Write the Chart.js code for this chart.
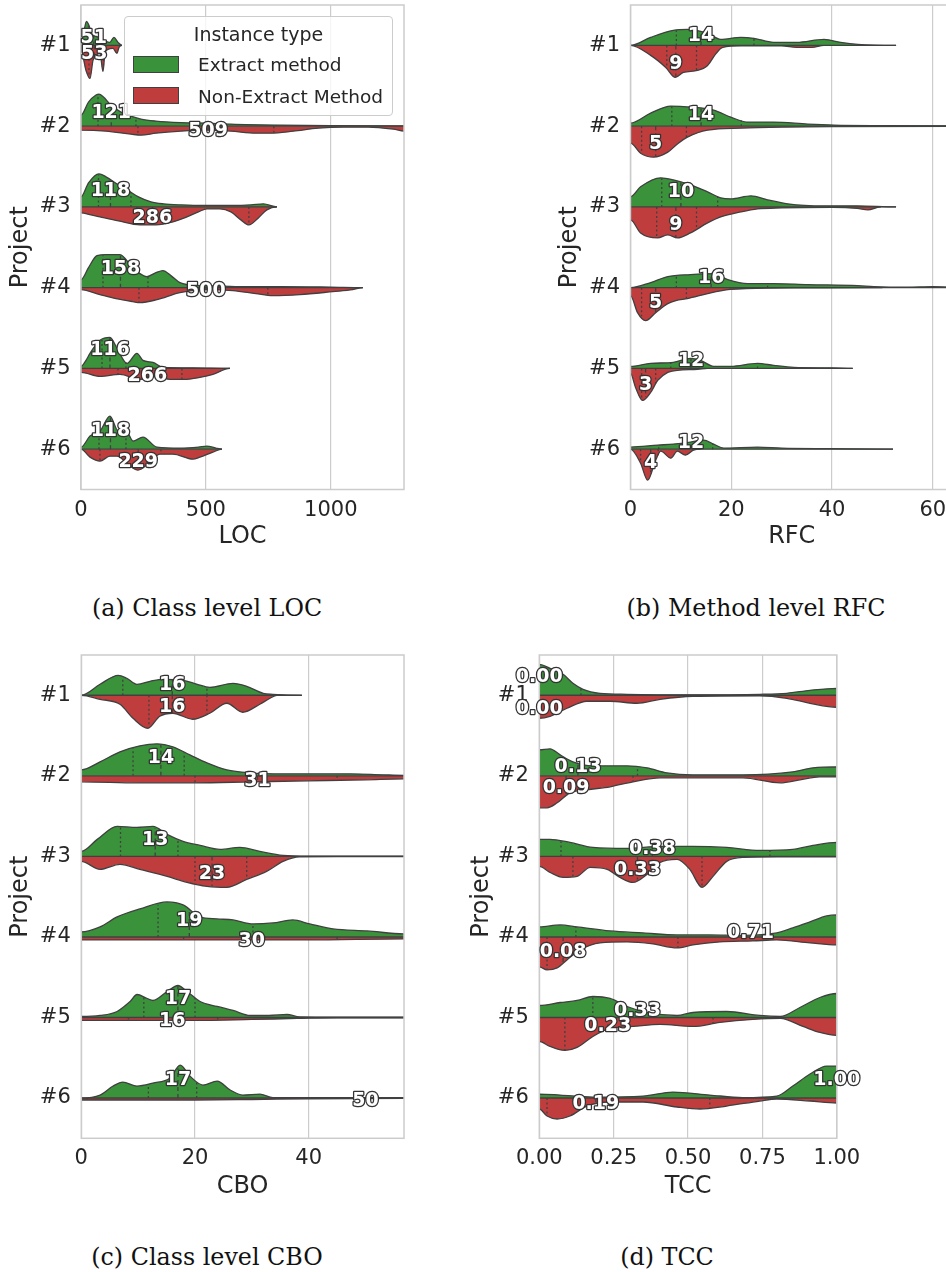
<!DOCTYPE html>
<html><head><meta charset="utf-8">
<script src="https://cdn.jsdelivr.net/npm/chart.js@4.4.1/dist/chart.umd.min.js"></script>
<style>
html,body{margin:0;padding:0;background:#fff;width:946px;height:1272px;overflow:hidden;position:relative;}
canvas{position:absolute;}
.cap{position:absolute;width:400px;text-align:center;font-family:'DejaVu Serif',serif;font-size:23.8px;color:#111;line-height:30px;white-space:nowrap;}
#legend{position:absolute;left:124px;top:16px;width:269px;height:100px;border:1px solid #cccccc;border-radius:4px;background:rgba(255,255,255,0.8);font-family:'DejaVu Sans',sans-serif;color:#262626;box-sizing:border-box;}
#legend .t{position:absolute;left:0;width:100%;text-align:center;top:5px;font-size:19px;line-height:24px;}
#legend .sw{position:absolute;left:8px;width:46px;height:17px;box-sizing:border-box;border:1px solid #404040;}
#legend .lb{position:absolute;left:73px;font-size:18.5px;line-height:24px;white-space:nowrap;}
</style></head>
<body>
<canvas id="cA" width="420" height="565" style="left:0;top:0;"></canvas>
<canvas id="cB" width="420" height="565" style="left:540px;top:0;"></canvas>
<canvas id="cC" width="420" height="575" style="left:0;top:640px;"></canvas>
<canvas id="cD" width="440" height="575" style="left:460px;top:640px;"></canvas>
<div id="legend">
  <div class="t">Instance type</div>
  <div class="sw" style="top:39px;background:#3a923a;"></div>
  <div class="lb" style="top:36px;">Extract method</div>
  <div class="sw" style="top:70px;background:#c03d3e;"></div>
  <div class="lb" style="top:68px;">Non-Extract Method</div>
</div>
<div class="cap" style="left:7px;top:593px;">(a) Class level LOC</div>
<div class="cap" style="left:556px;top:593px;">(b) Method level RFC</div>
<div class="cap" style="left:7px;top:1242px;">(c) Class level CBO</div>
<div class="cap" style="left:467px;top:1242px;">(d) TCC</div>
<script>
// ---------------- DATA ----------------
const projects = ['#1', '#2', '#3', '#4', '#5', '#6'];
const seriesNames = ['Extract method', 'Non-Extract Method'];

// density profiles: [metric value, half-width density] per project
const locExtract = [
 [[0,3],[10,12],[22,24],[30,21],[45,11],[60,9],[80,7],[100,4],[115,3],[132,8],[148,3],[164,0]],
 [[0,11],[30,24],[60,31],[72,32],[90,29],[120,21],[160,14],[200,10],[240,7],[300,5],[400,3.5],[500,3],[600,2],[800,1],[1000,0.5],[1300,0.3]],
 [[0,10],[30,24],[72,33],[100,30],[150,22],[185,17],[230,10],[280,5],[330,3],[400,2],[500,1.5],[600,1.5],[680,2],[730,3],[784,0]],
 [[0,8],[30,20],[64,32],[100,33],[156,33],[200,22],[236,14],[264,11],[300,15],[328,17],[360,12],[396,5],[476,2],[560,1.5],[664,1],[800,1],[1000,0.5],[1128,0]],
 [[0,2],[20,8],[36,15],[76,28],[116,31],[148,18],[184,5],[224,15],[248,8],[288,6],[328,1],[450,0.5],[596,0]],
 [[0,2],[36,13],[76,18],[116,33],[148,18],[184,17],[208,8],[248,12],[304,2],[400,1],[470,2],[504,3],[540,1],[564,0]]
];
const locNonExtract = [
 [[0,5],[20,25],[36,33],[48,15],[60,10],[76,8],[88,26],[96,8],[108,4],[128,3],[144,8],[152,2],[164,0]],
 [[0,4],[100,5],[200,8],[240,9],[300,7],[400,5],[500,4],[600,5],[700,7],[760,7],[850,5],[950,2],[1050,1],[1150,1],[1250,3],[1300,5]],
 [[0,6],[40,8],[76,10],[150,14],[236,18],[300,18],[368,15],[424,10],[470,5],[504,2],[556,2],[600,5],[640,13],[672,18],[710,11],[744,3],[784,0]],
 [[0,2],[76,7],[140,11],[208,14],[236,15],[304,12],[396,5],[504,2],[608,3],[700,6],[768,8],[876,7],[1008,4],[1088,2],[1128,0]],
 [[0,4],[76,8],[156,6],[236,11],[304,8],[356,11],[424,11],[476,9],[528,6],[596,0]],
 [[0,0],[36,8],[76,12],[116,7],[144,7],[196,17],[228,21],[276,13],[316,5],[368,5],[448,10],[476,8],[528,3],[564,0]]
];
// quartiles [Q1, median, Q3]
const locExtractQ = [[30,51,85],[68,121,220],[70,118,200],[88,158,268],[84,116,180],[72,118,180]];
const locNonExtractQ = [[32,53,90],[228,509,772],[224,286,672],[232,500,748],[148,266,404],[76,229,320]];

const rfcExtract = [
 [[0,0],[4,8],[8.5,15],[11.3,16],[15.3,12],[17.9,6],[21.9,8],[24.5,7],[28.4,3],[33,3],[38.4,6],[41.7,3],[45.1,1],[52.7,0]],
 [[0,3],[4,13],[8,20],[11.9,19],[16.5,16],[19.9,9],[23.3,4],[28.4,4],[35.2,2],[40.4,1],[50,0.5],[64,0.3]],
 [[0,10],[2,20],[6,29],[8.5,27],[11.9,22],[15.3,15],[17.9,9],[19.9,8],[23.9,11],[27.2,7],[31.2,3],[38.4,1],[45,1],[52.7,0]],
 [[0,0],[4,5],[7.4,11],[11.9,13],[16.5,14],[19.3,8],[23.3,4],[28.4,4],[35.2,3],[45.1,2],[48.3,1],[55,0.5],[60,1],[64,0.5]],
 [[0,2],[4,5],[8.5,6],[11.9,10],[13.9,8],[16.5,2],[19.9,2],[25.2,5],[28.4,3],[32.4,1],[40,0.5],[44.1,0]],
 [[0,2],[5.4,4],[8.5,5],[11.9,7],[14.5,9],[16.5,5],[18.5,1],[25.2,2],[30,1],[40,0.5],[52.1,0]]
];
const rfcNonExtract = [
 [[0,0],[4,10],[7,22],[8.9,32],[10.5,27],[13.3,25],[15.3,20],[17,8],[18.3,2],[22,0.5],[30,0.5],[33,2],[36,2],[38.4,0]],
 [[0,17],[2,27],[4.6,31],[7.4,26],[9.5,17],[11.3,11],[15.3,4],[21.9,2],[30,1],[40,0.5],[64,0.3]],
 [[0,13],[2,26],[5.4,31],[7.4,28],[9.3,31],[11.9,26],[15.3,16],[17.9,10],[21.9,5],[25.2,2],[30,1],[40,0.5],[45,1.5],[47.1,3],[49.7,0]],
 [[0,8],[1.4,25],[3,33],[5,25],[7.4,16],[9,13],[11.3,11],[15.3,6],[19.3,2],[23,1],[27.2,0.5],[35,0.3],[50,0]],
 [[0,5],[1,19],[2.4,32],[4,24],[5.4,12],[7.4,4],[9.3,2],[13.3,1],[15.3,0]],
 [[0,0],[2,14],[3.4,31],[5,11],[6,2],[8,9],[9.3,2],[10.9,6],[12.5,1],[13.9,0]]
];
const rfcExtractQ = [[9.1,14,24.5],[8.2,14,22],[6.2,10,17.3],[9.1,16,27.2],[8,12,25.2],[5.6,12,16.3]];
const rfcNonExtractQ = [[7.2,9,13.1],[2.2,5,11.1],[5.2,9,13.1],[2.2,5,11.1],[2.2,3,5],[2,4,5.5]];

const cboExtract = [
 [[0,0],[3.3,11],[6.5,20],[8,17],[9.8,11],[12.1,14],[14.4,16],[17.9,15],[20.4,11],[22.6,8],[26.7,12],[29.1,9],[32,2],[33.7,1],[38.8,0]],
 [[0,6],[3.3,14],[6.8,24],[10.3,30],[13.3,32],[16.1,29],[19.1,21],[22.1,13],[25.6,6],[29.7,3],[35.5,2],[47.3,2],[53.1,1],[57,0.5]],
 [[0,5],[2.8,17],[6.3,30],[9.8,29],[12.6,30],[15.1,22],[17.9,15],[20.9,11],[24.4,7],[27.9,9],[31.4,5],[35.5,1],[40,0.3],[57,0.3]],
 [[0,5],[3.3,10],[6.3,20],[10.3,28],[15.1,35],[17.9,32],[20.9,20],[23.9,18],[26.7,17],[30.2,13],[33.7,14],[37.2,17],[40.2,13],[44.3,8],[50.3,6],[57,3]],
 [[0,1],[3.3,2],[6.3,6],[8.6,16],[9.8,23],[11.6,19],[12.6,17],[15.1,26],[17,32],[18.6,26],[20.9,16],[23.9,11],[26.7,7],[29.7,2],[33,2],[36.2,3],[38.4,0.5],[45,0.3],[57,0.3]],
 [[0,0],[3.3,3],[5.6,12],[7.3,16],[9.8,12],[12.6,15],[15.6,20],[17.4,33],[19.1,22],[21.4,13],[23.9,17],[26.2,8],[28.4,3],[31.4,4],[33.7,0.5],[45,0.3],[57,0.3]]
];
const cboNonExtract = [
 [[0,0],[3.3,4],[6.8,9],[9.1,23],[11.7,33],[13.8,21],[16.1,18],[19.6,24],[22.6,18],[25.6,8],[28.4,17],[31.4,9],[33.2,3],[34.4,0]],
 [[0,6],[10,7],[20,7],[30,6],[40,5],[50,4],[57,3]],
 [[0,5],[3.3,13],[6.8,8],[10.3,13],[15.1,20],[18.6,26],[22.1,30],[25.6,31],[29.1,23],[32.6,15],[35.5,5],[38.4,0.5],[45,0.3],[57,0.3]],
 [[0,3],[20,3],[40,3],[57,2]],
 [[0,3],[10,3],[20,3],[30,2],[38,1],[45,0.3],[57,0.3]],
 [[0,2],[20,2],[30,1.5],[40,0.8],[57,0.3]]
];
const cboExtractQ = [[7.3,16,22.1],[9.1,14,18.1],[6.9,13,17],[13.5,19,30.2],[11,17,20],[11.8,17,20.3]];
const cboNonExtractQ = [[11.9,16,22.1],[20,31,45],[20,23,29.1],[18,30,45],[8.3,16,24],[1,50,55]];

const tccExtract = [
 [[0,31],[0.036,27],[0.08,21],[0.113,12],[0.147,6],[0.204,2],[0.295,1],[0.5,0.5],[0.741,1],[0.832,2],[0.91,5],[1,7]],
 [[0,26],[0.036,27],[0.07,21],[0.113,14],[0.18,10],[0.295,10],[0.362,8],[0.429,3],[0.516,1],[0.684,1],[0.852,4],[0.92,8],[1,9]],
 [[0,17],[0.036,17],[0.103,14],[0.18,9],[0.295,8],[0.406,10],[0.516,10],[0.63,9],[0.741,6],[0.852,7],[0.92,11],[1,14]],
 [[0,10],[0.07,12],[0.127,10],[0.238,6],[0.349,4],[0.463,2],[0.573,2],[0.684,1.5],[0.798,4],[0.852,9],[0.91,15],[0.966,21],[1,22]],
 [[0,12],[0.07,15],[0.127,17],[0.18,21],[0.238,19],[0.295,11],[0.362,5],[0.463,2],[0.516,5],[0.63,6],[0.741,2],[0.81,1],[0.876,10],[0.943,20],[1,24]],
 [[0,4],[0.07,3],[0.18,1],[0.349,2],[0.449,6],[0.573,3],[0.684,0.5],[0.798,2],[0.852,12],[0.91,24],[0.966,32],[1,32]]
];
const tccNonExtract = [
 [[0,23],[0.036,21],[0.093,13],[0.16,6],[0.238,6],[0.328,8],[0.406,4],[0.517,1],[0.74,0.5],[0.832,3],[0.91,8],[1,12]],
 [[0,32],[0.026,32],[0.06,27],[0.103,17],[0.16,14],[0.238,11],[0.315,6],[0.406,2],[0.516,2],[0.684,2],[0.81,7],[0.876,4],[0.943,1],[1,1]],
 [[0,10],[0.036,16],[0.08,21],[0.127,20],[0.171,11],[0.228,13],[0.271,21],[0.315,26],[0.362,18],[0.406,6],[0.463,3],[0.506,13],[0.547,31],[0.584,20],[0.63,5],[0.684,1],[0.8,0.5],[1,0.5]],
 [[0,30],[0.026,33],[0.06,31],[0.093,23],[0.137,13],[0.204,6],[0.295,5],[0.382,7],[0.463,11],[0.516,8],[0.607,5],[0.718,4],[0.798,3],[0.91,6],[1,8]],
 [[0,24],[0.036,29],[0.086,33],[0.127,30],[0.18,19],[0.238,11],[0.315,9],[0.406,7],[0.516,9],[0.607,5],[0.718,2],[0.81,1],[0.886,9],[0.943,15],[1,18]],
 [[0,11],[0.026,18],[0.06,21],[0.103,18],[0.16,8],[0.238,4],[0.349,4],[0.463,9],[0.54,11],[0.63,8],[0.741,3],[0.798,1],[0.91,3],[1,5]]
];
const tccExtractQ = [[null,0,0.14],[null,0.13,0.33],[0.073,0.38,0.775],[0.123,0.71,null],[0.18,0.33,null],[0.65,1,null]];
const tccNonExtractQ = [[null,0,null],[null,0.09,0.315],[0.113,0.33,0.547],[0.026,0.08,0.466],[0.086,0.23,0.584],[0.026,0.19,0.573]];

// x tick values
const locTicks = [0, 500, 1000];
const rfcTicks = [0, 20, 40, 60];
const cboTicks = [0, 20, 40];
const tccTicks = [0, 0.25, 0.5, 0.75, 1.0];

// ---------------- STYLE / LAYOUT ----------------
const GREEN = '#3a923a', RED = '#c03d3e', EDGE = '#404040', GRID = '#cccccc', TEXT = '#262626';
const FONT = "'DejaVu Sans', sans-serif";
const widthScale = 1 / 80.6; // density units -> category band units

function interp(prof, x) {
  if (x < prof[0][0] || x > prof[prof.length - 1][0]) return 0;
  for (let k = 0; k < prof.length - 1; k++) {
    const [x0, d0] = prof[k], [x1, d1] = prof[k + 1];
    if (x >= x0 && x <= x1) return x1 === x0 ? d0 : d0 + (d1 - d0) * (x - x0) / (x1 - x0);
  }
  return prof[prof.length - 1][1];
}

const specs = [
  {id:'cA', w:420, h:565, area:{l:81, t:5, r:404, b:489.5}, xMax:1293, ticks:locTicks, xTitle:'LOC', yTitleX:21,
   ext:locExtract, non:locNonExtract, extQ:locExtractQ, nonQ:locNonExtractQ, tickFmt:v=>String(v), labFmt:v=>v.toFixed(0)},
  {id:'cB', w:420, h:565, area:{l:90.5, t:5, r:413, b:489.5}, xMax:64, ticks:rfcTicks, xTitle:'RFC', yTitleX:30,
   ext:rfcExtract, non:rfcNonExtract, extQ:rfcExtractQ, nonQ:rfcNonExtractQ, tickFmt:v=>String(v), labFmt:v=>v.toFixed(0)},
  {id:'cC', w:420, h:575, area:{l:81.3, t:15, r:404, b:498.3}, xMax:56.77, ticks:cboTicks, xTitle:'CBO', yTitleX:21,
   ext:cboExtract, non:cboNonExtract, extQ:cboExtractQ, nonQ:cboNonExtractQ, tickFmt:v=>String(v), labFmt:v=>v.toFixed(0)},
  {id:'cD', w:440, h:575, area:{l:79.3, t:15, r:376.8, b:498.3}, xMax:1, ticks:tccTicks, xTitle:'TCC', yTitleX:22,
   ext:tccExtract, non:tccNonExtract, extQ:tccExtractQ, nonQ:tccNonExtractQ, tickFmt:v=>v.toFixed(2), labFmt:v=>v.toFixed(2)}
];

function buildChart(s) {
  const datasets = [];
  const labels = [];
  projects.forEach((p, i) => {
    const halves = [
      {prof: s.ext[i], q: s.extQ[i], dir: -1, color: GREEN, name: seriesNames[0]},
      {prof: s.non[i], q: s.nonQ[i], dir: 1, color: RED, name: seriesNames[1]}
    ];
    let lo = Infinity, hi = -Infinity;
    halves.forEach(h => {
      const prof = h.prof;
      lo = Math.min(lo, prof[0][0]); hi = Math.max(hi, prof[prof.length - 1][0]);
      const pts = [{x: prof[0][0], y: i}]
        .concat(prof.map(([v, d]) => ({x: v, y: i + h.dir * d * widthScale})))
        .concat([{x: prof[prof.length - 1][0], y: i}]);
      datasets.push({label: h.name + ' ' + p, data: pts, fill: {value: i}, backgroundColor: h.color,
        borderColor: EDGE, borderWidth: 1.3, pointRadius: 0, cubicInterpolationMode: 'monotone', order: 3});
      h.q.forEach((qv, k) => {
        if (qv == null) return;
        const d = interp(prof, qv);
        if (d <= 0.4) return;
        datasets.push({data: [{x: qv, y: i}, {x: qv, y: i + h.dir * (d - 0.4) * widthScale}],
          borderColor: EDGE, borderWidth: 1.3, borderDash: k === 1 ? [4, 3] : [2, 2.5],
          pointRadius: 0, fill: false, order: 1});
      });
      const med = h.q[1];
      labels.push({x: med, y: i + h.dir * (interp(prof, med) * widthScale / 2 + 0.03), text: s.labFmt(med)});
    });
    datasets.push({data: [{x: lo, y: i}, {x: hi, y: i}], borderColor: EDGE, borderWidth: 1.4,
      pointRadius: 0, fill: false, order: 2});
  });

  const overlay = {
    id: 'overlay',
    afterDatasetsDraw(chart) {
      const {ctx, chartArea: a, scales} = chart;
      ctx.save();
      ctx.strokeStyle = GRID; ctx.lineWidth = 1.5;
      ctx.strokeRect(a.left, a.top, a.right - a.left, a.bottom - a.top);
      ctx.font = "bold 19px " + FONT;
      ctx.textAlign = 'center'; ctx.textBaseline = 'middle';
      ctx.lineJoin = 'round';
      labels.forEach(l => {
        const px = scales.x.getPixelForValue(l.x), py = scales.y.getPixelForValue(l.y);
        ctx.lineWidth = 2.6; ctx.strokeStyle = '#333333';
        ctx.strokeText(l.text, px, py);
        ctx.fillStyle = '#ffffff';
        ctx.fillText(l.text, px, py);
      });
      ctx.restore();
    }
  };

  const a = s.area;
  new Chart(document.getElementById(s.id), {
    type: 'line',
    data: {datasets},
    options: {
      responsive: false, animation: false, devicePixelRatio: 1, events: [],
      layout: {padding: {left: 0, top: a.t, right: s.w - a.r, bottom: 0}},
      plugins: {legend: {display: false}, tooltip: {enabled: false}},
      scales: {
        x: {
          type: 'linear', min: 0, max: s.xMax,
          afterBuildTicks: ax => { ax.ticks = s.ticks.map(v => ({value: v})); },
          afterFit: ax => { ax.height = s.h - a.b; ax.paddingLeft = 0; ax.paddingRight = 0; },
          grid: {color: GRID, lineWidth: 1.2, drawTicks: false},
          border: {display: false},
          ticks: {padding: 8, color: TEXT, font: {family: FONT, size: 21}, maxRotation: 0,
                  callback: v => s.tickFmt(v)},
          title: {display: true, text: s.xTitle, color: TEXT, font: {family: FONT, size: 24},
                  padding: {top: 0, bottom: 13.9}}
        },
        y: {
          type: 'linear', min: -0.5, max: 5.5, reverse: true,
          afterBuildTicks: ax => { ax.ticks = projects.map((_, k) => ({value: k})); },
          afterFit: ax => { ax.width = a.l; ax.paddingTop = 0; ax.paddingBottom = 0; },
          grid: {display: false, drawTicks: false},
          border: {display: false},
          ticks: {padding: 10.5, color: TEXT, font: {family: FONT, size: 21},
                  callback: v => projects[v]},
          title: {display: true, text: 'Project', color: TEXT, font: {family: FONT, size: 24},
                  padding: {top: s.yTitleX - 14.4, bottom: 0}}
        }
      }
    },
    plugins: [overlay]
  });
}
specs.forEach(buildChart);
</script>
</body></html>
